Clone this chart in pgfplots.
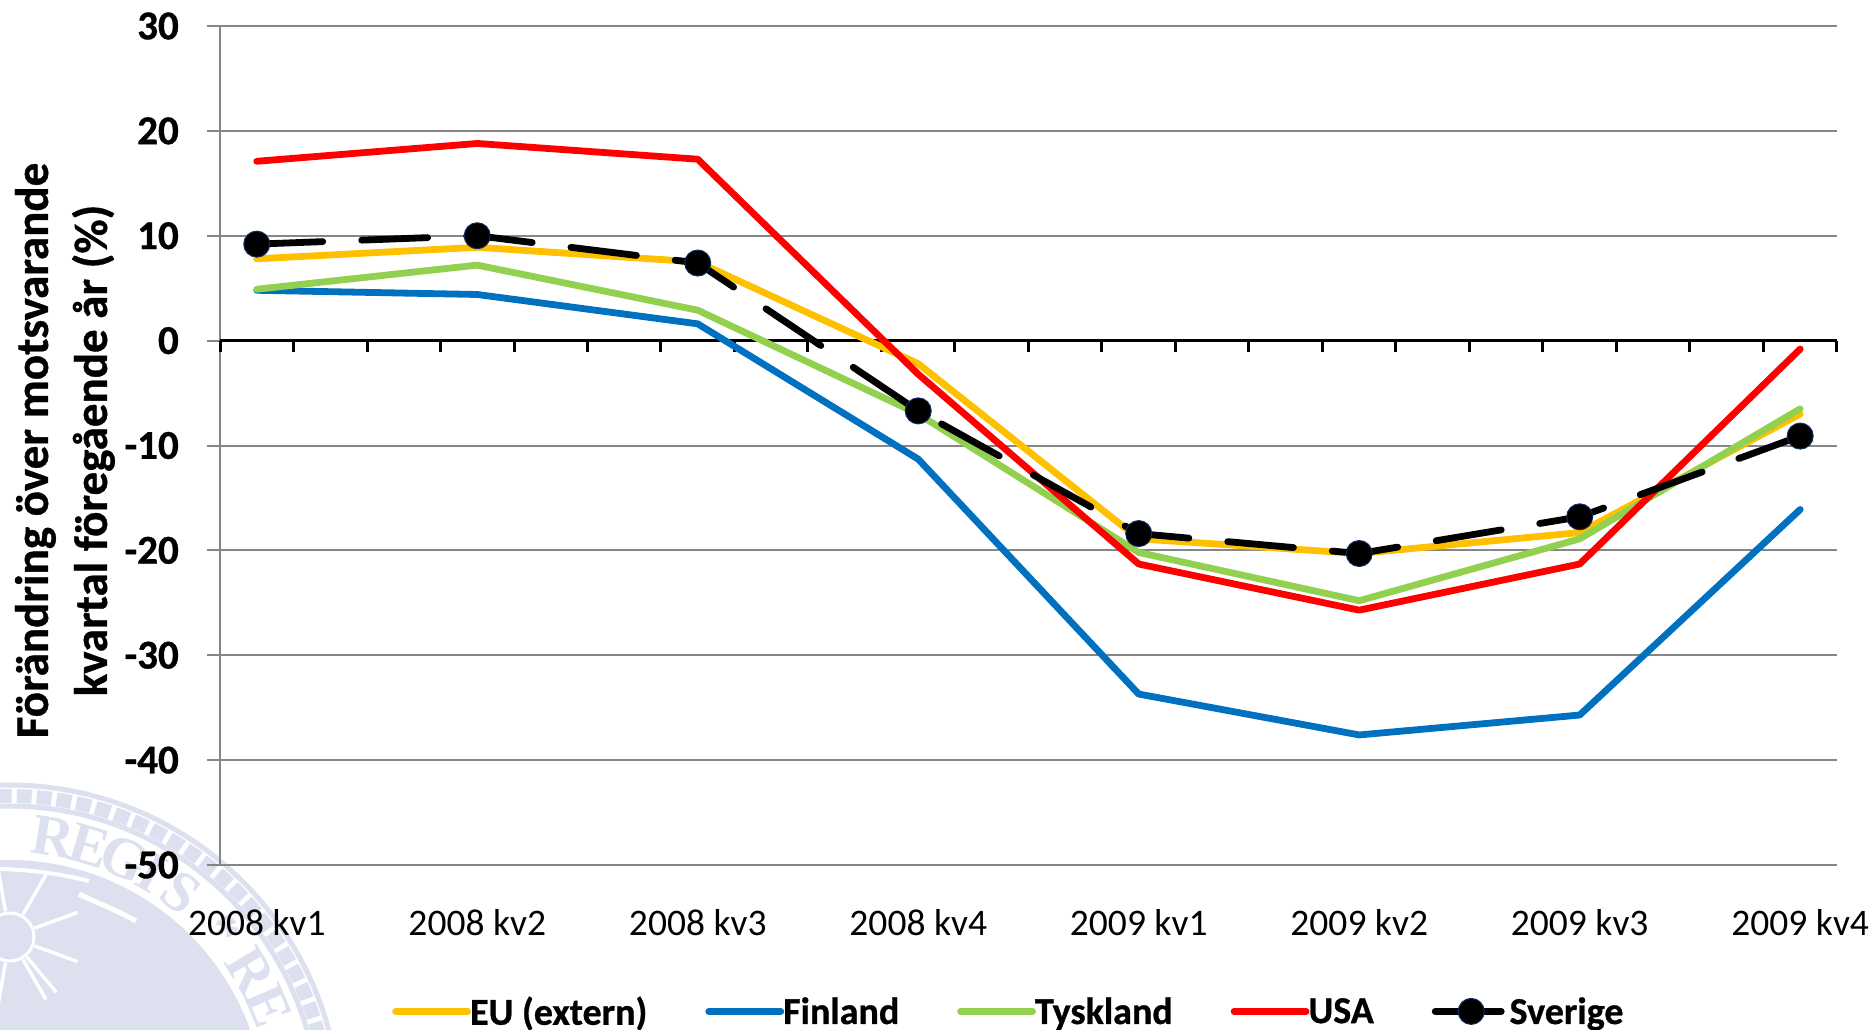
\documentclass[border=0pt]{standalone}
\usepackage{pgfplots}
\pgfplotsset{compat=1.18}
\usepackage{fontspec}
\setmainfont{Carlito}[BoldFeatures={FakeBold=0.8}]
\newfontfamily\sealfont{Liberation Serif}
\definecolor{seal}{HTML}{DCE0EF}
\definecolor{gridg}{HTML}{868686}
\definecolor{euc}{HTML}{FFC000}
\definecolor{fic}{HTML}{0070C0}
\definecolor{tyc}{HTML}{92D050}
\definecolor{usc}{HTML}{FF0000}
\definecolor{mkb}{HTML}{0F2A60}
\pgfplotstableread{
x  eu     fi     ty     us     se
0  7.8    4.8    4.9    17.1   9.2
1  8.9    4.4    7.2    18.8   10.0
2  7.5    1.6    2.9    17.3   7.4
3  -2.2   -11.3  -7.0   -3.2   -6.7
4  -18.9  -33.7  -20.2  -21.3  -18.4
5  -20.3  -37.6  -24.8  -25.7  -20.3
6  -18.3  -35.7  -18.9  -21.3  -16.8
7  -7.0   -16.1  -6.5   -0.8   -9.1
}\datatable
\pgfplotsset{base/.style={
  at={(220pt,164pt)}, anchor=south west, scale only axis,
  width=1617pt, height=839pt,
  xmin=-0.1667, xmax=7.1667, ymin=-50, ymax=30}}
\begin{document}
\begin{tikzpicture}[x=1pt,y=1pt]
\useasboundingbox (0,0) rectangle (1875,1029);
% watermark seal
\begin{scope}
\clip (0,0) rectangle (1875,1029);
\begin{scope}[shift={(9,-87)}]
  \draw[seal,line width=5pt] (0,0) circle (331);
  \draw[seal,line width=14pt,dash pattern=on 15pt off 5pt] (0,0) circle (320);
  \draw[seal,line width=5pt] (0,0) circle (310);
  \fill[seal] (0,0) circle (256);
  \foreach \c/\a in {R/81,E/73.5,G/66,I/59.5,S/52.5,R/31,E/23}{
    \node[seal,rotate=\a-90,font=\sealfont\bfseries\fontsize{58}{58}\selectfont,inner sep=0pt] at (\a:282) {\c};
  }
  \node[seal,font=\sealfont\bfseries\fontsize{52}{52}\selectfont,inner sep=0pt,rotate=-50] at (41:282) {*};
  \begin{scope}[shift={(1,179)}]
    \foreach \a in {-20,20,60,100,140,180,220,260,300,-50}{
      \draw[white,line width=3.5pt] (\a:26) -- (\a:72);
    }
    \draw[white,line width=3pt] (0,0) circle (24);
  \end{scope}
  \draw[white,line width=4pt] (-9,247) .. controls (30,246) and (60,240) .. (80,235);
  \draw[white,line width=5pt] (70,222) .. controls (90,212) and (110,205) .. (127,195);
\end{scope}
\end{scope}
% grid, y axis, labels
\begin{axis}[base,
  axis line style={gridg,line width=2pt},
  axis x line*=bottom, axis y line*=left,
  separate axis lines,
  xtick={0,1,2,3,4,5,6,7},
  xticklabels={2008 kv1,2008 kv2,2008 kv3,2008 kv4,2009 kv1,2009 kv2,2009 kv3,2009 kv4},
  x tick style={draw=none}, major x tick style={draw=none},
  xticklabel style={font=\fontsize{37.5}{37.5}\selectfont,yshift=-28pt},
  ytick={-50,-40,-30,-20,-10,0,10,20,30},
  yticklabels={-50,-40,-30,-20,-10,0,10,20,30},
  yticklabel style={font=\bfseries\fontsize{41}{41}\selectfont,inner sep=0pt,xshift=-28pt},
  tick align=outside, major tick length=13pt,
  y tick style={gridg,line width=2pt},
  ymajorgrids, y grid style={gridg,line width=2pt},
  ylabel={Förändring över motsvarande\\kvartal föregående år (\%)},
  every axis y label/.style={at={(axis description cs:-0.0959,0.494)},rotate=90,anchor=center,
    align=center,font=\bfseries\fontsize{47}{59}\selectfont},
]
\end{axis}
% zero line with its ticks
\begin{axis}[base,
  axis x line*=middle, axis y line=none,
  axis line style={black,line width=3pt},
  xtick={-0.1667,0.1667,0.5,0.8333,1.1667,1.5,1.8333,2.1667,2.5,2.8333,3.1667,3.5,3.8333,4.1667,4.5,4.8333,5.1667,5.5,5.8333,6.1667,6.5,6.8333,7.1667},
  xticklabels={},
  tick align=outside, major tick length=11pt,
  x tick style={black,line width=3pt},
]
\end{axis}
% series
\begin{axis}[base,
  axis lines=none,
  legend columns=5,
  legend cell align=left,
  legend style={at={(axis description cs:0.1064,-0.1745)},anchor=west,draw=none,fill=none,
    inner sep=0pt,font=\bfseries\fontsize{38}{38}\selectfont,
    /tikz/every odd column/.style={column sep=-3pt},
    /tikz/every even column/.style={column sep=56pt}},
  legend image code/.code={\draw[#1,mark repeat=2,mark phase=2] plot coordinates {(0pt,0pt)(36pt,0pt)(72pt,0pt)};},
  every axis plot/.append style={line width=6.8pt,line cap=round,line join=round},
]
\addplot[euc] table[x=x,y=eu] {\datatable};
\addlegendentry{EU (extern)}
\addplot[fic] table[x=x,y=fi] {\datatable};
\addlegendentry{Finland}
\addplot[tyc] table[x=x,y=ty] {\datatable};
\addlegendentry{Tyskland}
\addplot[usc] table[x=x,y=us] {\datatable};
\addlegendentry{USA}
\addplot[black,dash pattern=on 66pt off 39pt,
  mark=*,mark size=13pt,mark options={solid,fill=black,draw=mkb,line width=1pt}] table[x=x,y=se] {\datatable};
\addlegendentry{Sverige}
\end{axis}
\end{tikzpicture}
\end{document}
